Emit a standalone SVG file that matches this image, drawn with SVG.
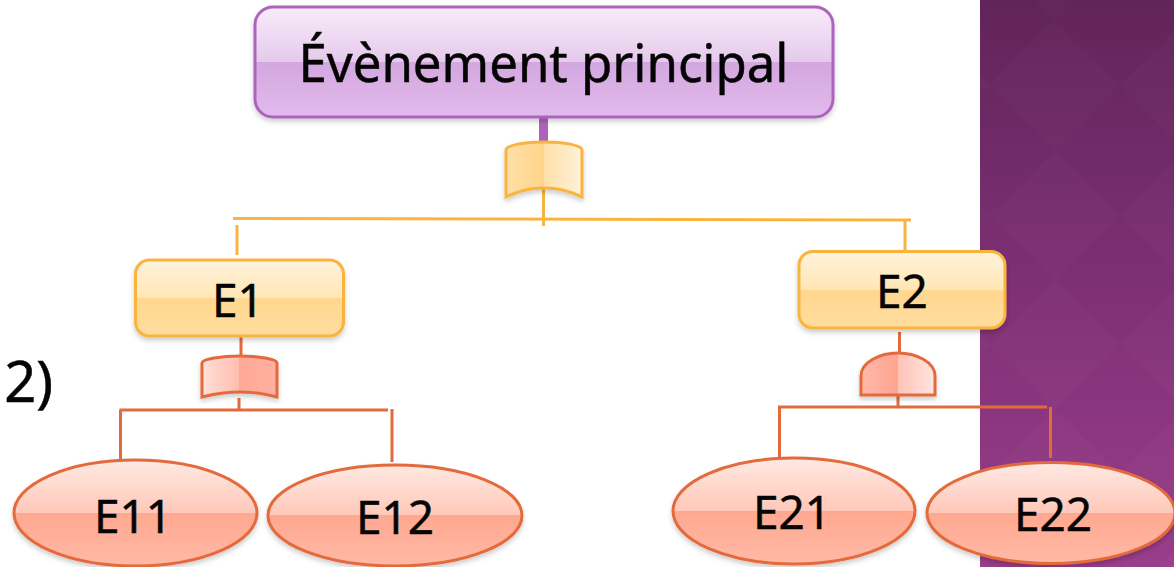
<svg xmlns="http://www.w3.org/2000/svg" width="1174" height="567" viewBox="0 0 1174 567">
<style>
text{font-family:"Noto Sans","Open Sans","DejaVu Sans",sans-serif;fill:#050505;stroke:#050505;stroke-width:.5;text-anchor:middle}
.lbl{font-size:46px}
.pu{stroke:#AB64BE;stroke-width:3}
.or{stroke:#F9B440;stroke-width:3}
.rd{stroke:#E26B3C;stroke-width:3}
.ln{fill:none}
.shd{filter:url(#shadow)}
</style>
<defs>
<filter id="shadow" x="-10%" y="-10%" width="120%" height="125%"><feDropShadow dx="0" dy="3" stdDeviation="2.5" flood-color="#000" flood-opacity=".2"/></filter>
<linearGradient id="panel" x1="0" y1="0" x2="0" y2="1"><stop offset="0" stop-color="#612459"/><stop offset=".5" stop-color="#7E3075"/><stop offset="1" stop-color="#9A3D8B"/></linearGradient>
<pattern id="diam" width="130" height="130" patternUnits="userSpaceOnUse" x="990" y="20"><path d="M65 0L130 65L65 130L0 65Z" fill="#fff" fill-opacity=".014"/></pattern>
<linearGradient id="gPu" x1="0" y1="0" x2="0" y2="1"><stop offset="0" stop-color="#F8EBFA"/><stop offset=".5" stop-color="#E5CAEB"/><stop offset=".5" stop-color="#D3A7DF"/><stop offset="1" stop-color="#E2BAEC"/></linearGradient>
<linearGradient id="gOr" x1="0" y1="0" x2="0" y2="1"><stop offset="0" stop-color="#FFF3DC"/><stop offset=".5" stop-color="#FFE6B4"/><stop offset=".5" stop-color="#FFD78E"/><stop offset="1" stop-color="#FFDD9F"/></linearGradient>
<linearGradient id="gRd" x1="0" y1="0" x2="0" y2="1"><stop offset="0" stop-color="#FFE9E3"/><stop offset=".5" stop-color="#FFC8B8"/><stop offset=".5" stop-color="#FFA890"/><stop offset="1" stop-color="#FFB9A6"/></linearGradient>
<linearGradient id="gGateO" x1="0" y1="0" x2="1" y2="0"><stop offset="0" stop-color="#FFE0A8"/><stop offset=".5" stop-color="#FFD48A"/><stop offset=".5" stop-color="#FFDFA6"/><stop offset="1" stop-color="#FFF1DA"/></linearGradient>
<linearGradient id="gGateR1" x1="0" y1="0" x2="1" y2="0"><stop offset="0" stop-color="#FFE0D9"/><stop offset=".5" stop-color="#FFBDAE"/><stop offset=".5" stop-color="#FFA897"/><stop offset="1" stop-color="#FFB0A0"/></linearGradient>
<linearGradient id="gGateR2" x1="0" y1="0" x2="1" y2="0"><stop offset="0" stop-color="#FFB9AA"/><stop offset=".5" stop-color="#FFA48F"/><stop offset=".5" stop-color="#FFC3B6"/><stop offset="1" stop-color="#FFE5DF"/></linearGradient>
</defs>
<rect width="1174" height="567" fill="#fff"/>
<rect x="980" y="0" width="194" height="567" fill="url(#panel)"/>
<rect x="980" y="0" width="194" height="567" fill="url(#diam)"/>
<text x="53" y="402" style="text-anchor:end;font-size:56px">2)</text>
<g id="connectors" class="ln">
<path d="M543.5 118V142" stroke="#AB64BE" stroke-width="9"/>
<g class="or"><path d="M543.5 188V226M233 218.5L911 220M237 225V255M905 220V252"/></g>
<g class="rd"><path d="M241 335V357M239 398V410M119.500 410H388M120.500 410V461M392 409V462M899.500 332V354M898 396V407M778 407H1047M779.500 407V459M1050.500 407V458"/></g>
</g>
<g id="main"><rect class="pu shd" x="255" y="7" width="578" height="110" rx="18" fill="url(#gPu)"/><text x="543.500" y="82" textLength="490" lengthAdjust="spacingAndGlyphs" style="font-size:52px">Évènement principal</text></g>
<g id="gate0"><path class="or shd" d="M506 197V150C506 145 525 142 544 142S582 145 582 150V197C570 191 555 188 544 188S518 191 506 197Z" fill="url(#gGateO)"/></g>
<g id="e1"><rect class="or shd" x="135.500" y="260" width="208" height="76" rx="14" fill="url(#gOr)"/><text class="lbl" x="238" y="317">E1</text></g>
<g id="e2"><rect class="or shd" x="799" y="251.500" width="206" height="76.500" rx="14" fill="url(#gOr)"/><text class="lbl" x="902" y="308">E2</text></g>
<g id="gate1"><path class="rd shd" d="M202 397V363C202 359 222 356 240 356S277 359 277 363V397C265 394 252 392 240 392S214 394 202 397Z" fill="url(#gGateR1)"/></g>
<g id="gate2"><path class="rd shd" d="M861 395V376C861 362 880 353 898 353C916 353 935 362 935 376V395Z" fill="url(#gGateR2)"/></g>
<g id="e11"><ellipse class="rd shd" cx="135.500" cy="513" rx="121.500" ry="53" fill="url(#gRd)"/><text class="lbl" x="133" y="533">E11</text></g>
<g id="e12"><ellipse class="rd shd" cx="395" cy="515.500" rx="127" ry="50.500" fill="url(#gRd)"/><text class="lbl" x="395" y="534">E12</text></g>
<g id="e21"><ellipse class="rd shd" cx="794" cy="511" rx="121" ry="53" fill="url(#gRd)"/><text class="lbl" x="792" y="529">E21</text></g>
<g id="e22"><ellipse class="rd shd" cx="1051" cy="513" rx="124" ry="50.500" fill="url(#gRd)"/><text class="lbl" x="1053" y="531">E22</text></g>
</svg>
